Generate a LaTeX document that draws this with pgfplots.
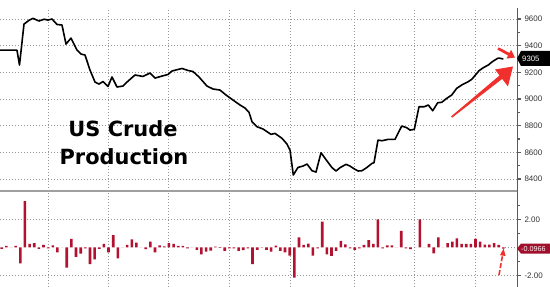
\documentclass[border=0pt]{standalone}
\usepackage{fontspec}
\setmainfont{Liberation Sans}
\newfontfamily\titlefont{DejaVu Sans}
\usepackage{pgfplots}
\pgfplotsset{compat=1.18}
\definecolor{barred}{RGB}{178,18,48}
\definecolor{arrowred}{RGB}{240,48,45}
\definecolor{gridgray}{RGB}{150,150,150}
\definecolor{axisgray}{RGB}{90,90,90}
\definecolor{boxred}{RGB}{160,16,45}
\pgfplotsset{
  panel/.style={
    scale only axis, width=517bp, xmin=0, xmax=517,
    axis line style={draw=none},
    xtick={48,108,168,229,290,354,414,475}, xticklabels={},
    xtick style={draw=none},
    xmajorgrids, ymajorgrids,
    major grid style={gridgray, line width=0.7bp, dash pattern=on 1bp off 2bp},
    ytick pos=right, yticklabel pos=right, tick align=outside,
    major tick length=4bp, minor tick length=3bp,
    ytick style={axisgray, line width=1.1bp},
    minor tick style={axisgray, line width=0.6bp},
    tick label style={font=\fontsize{8}{9}\selectfont, text=black!80},
    clip=false,
    /pgf/number format/assume math mode=true,
  }
}
\begin{document}
\begin{tikzpicture}
\useasboundingbox (0,0) rectangle (550bp,287bp);
\begin{axis}[panel, at={(0,96bp)}, anchor=south west, height=183bp,
  ymin=8310, ymax=9682.5,
  ytick={8400,8600,8800,9000,9200,9400,9600},
  yticklabels={8400,8600,8800,9000,9200,9400,9600},
  minor ytick={8500,8700,8900,9100,9300,9500}]
\addplot[black, line width=1.6bp, line join=round] coordinates {
(0,9367) (15,9367) (17,9365) (19.5,9255) (24,9562) (29,9590) (33,9605) (39,9585)
(44,9598) (48,9592) (52,9600) (57,9559) (62,9555) (66,9412) (71,9457) (77,9367)
(81,9337) (85,9330) (90,9217) (95,9127) (99,9112) (103,9131) (108,9094) (112,9165)
(117,9090) (123,9097) (127,9127) (135,9180) (143,9169) (150,9195) (155,9157) (162,9172)
(168,9184) (172,9210) (182,9229) (188,9214) (193,9206) (199,9165) (207,9097) (213,9075)
(220,9067) (226,9030) (233,8992) (240,8955) (245,8932) (249,8900) (252,8830) (257,8792)
(263,8775) (267,8755) (271,8735) (275,8742) (282,8705) (287,8662) (290,8617) (293.3,8430)
(298,8487) (303,8497) (307,8512) (312,8462) (316,8452) (321,8597) (327,8535) (332,8485)
(336,8460) (340,8485) (346,8510) (350,8497) (354,8477) (358,8460) (362,8462) (367,8487)
(372,8517) (374,8522) (378,8692) (382,8687) (388,8697) (395,8697) (401.7,8797) (406.7,8785)
(410,8767) (414.3,8772) (419,8942) (424.3,8942) (428.3,8955) (432.7,8912) (437.7,8972) (441.7,8975)
(446.7,9005) (451.7,9030) (456.7,9080) (461.7,9105) (468.3,9130) (471.7,9147) (479,9212) (483.3,9235)
(488.3,9255) (492.3,9280) (497.7,9305) (499,9307) (503.3,9300)
};
\draw[axisgray, line width=0.8bp] (rel axis cs:1,0) -- (rel axis cs:1,1);
\end{axis}
\begin{axis}[panel, at={(0,0)}, anchor=south west, height=96bp,
  ymin=-2.836, ymax=4.02,
  ytick={-2,2}, yticklabels={-2.00,2.00}, minor ytick={-1,0,1,3}]
\addplot[ybar, bar width=2.6bp, fill=barred, draw=none] coordinates {
(1.7,-0.12) (6.3,0.1) (11.0,0.0) (15.6,0.1) (20.3,-1.14) (24.9,3.3) (29.6,0.24) (34.2,0.29)
(38.9,-0.12) (43.5,0.17) (48.2,-0.07) (52.8,0.14) (57.4,-0.36) (62.1,0.0) (66.7,-1.45) (71.4,0.6)
(76.0,-0.69) (80.7,-0.45) (85.3,-0.07) (90.0,-1.21) (94.6,-0.86) (99.2,-0.12) (103.9,0.24) (108.5,-0.36)
(113.2,0.86) (117.8,-0.79) (122.5,0.0) (127.1,0.17) (131.8,0.57) (136.4,0.33) (141.0,0.0) (145.7,-0.14)
(150.3,0.4) (155.0,-0.36) (159.6,0.14) (164.3,0.07) (168.9,0.29) (173.6,0.24) (178.2,0.1) (182.9,0.1)
(187.5,-0.07) (192.1,0.0) (196.8,-0.19) (201.4,-0.5) (206.1,-0.31) (210.7,-0.24) (215.4,0.05) (220.0,-0.05)
(224.7,-0.26) (229.3,-0.07) (233.9,-0.07) (238.6,-0.26) (243.2,-0.21) (247.9,-0.07) (252.5,-1.21) (257.2,-0.19)
(261.8,-0.02) (266.5,-0.19) (271.1,-0.31) (275.8,0.12) (280.4,-0.26) (285.0,-0.36) (289.7,-0.6) (294.3,-2.17)
(299.0,0.71) (303.6,0.17) (308.3,0.26) (312.9,-0.6) (317.6,-0.07) (322.2,1.83) (326.9,-0.5) (331.5,-0.62)
(336.1,-0.26) (340.8,0.45) (345.4,0.21) (350.1,-0.07) (354.7,-0.19) (359.4,-0.07) (364.0,0.17) (368.7,0.52)
(373.3,0.24) (377.9,2.0) (382.6,-0.07) (387.2,0.14) (391.9,0.14) (396.5,0.0) (401.2,1.17) (405.8,-0.07)
(410.5,-0.14) (415.1,0.0) (419.8,2.0) (424.4,0.0) (429.0,0.24) (433.7,-0.43) (438.3,0.71) (443.0,0.0)
(447.6,0.29) (452.3,0.4) (456.9,0.64) (461.6,0.24) (466.2,0.24) (470.8,0.24) (475.5,0.6) (480.1,0.4)
(484.8,0.19) (489.4,0.19) (494.1,0.29) (498.7,0.17) (503.4,-0.0966)
};
\draw[gridgray, line width=0.7bp, dash pattern=on 1bp off 2bp] (axis cs:505,0) -- (axis cs:517,0);
\draw[gray!75, line width=1.8bp] (rel axis cs:0,1) -- (rel axis cs:1,1);
\draw[axisgray, line width=0.8bp] (rel axis cs:1,0) -- (rel axis cs:1,1);
\end{axis}
\begin{scope}[x=1bp, y=-1bp, shift={(0,287bp)}]
\node[anchor=base, font=\titlefont\bfseries\fontsize{21}{25}\selectfont] at (123,137) {US Crude};
\node[anchor=base, font=\titlefont\bfseries\fontsize{21}{25}\selectfont] at (124,165) {Production};
\fill[black] (517,58.5) -- (521,51) -- (550,51) -- (550,66) -- (521,66) -- cycle;
\node[anchor=west, text=white, font=\fontsize{7.8}{9}\selectfont, inner sep=0] at (522,58.5) {9305};
\fill[boxred] (517,248.6) -- (521,243.6) -- (550,243.6) -- (550,253.6) -- (521,253.6) -- cycle;
\node[anchor=west, text=white, font=\fontsize{7.2}{8}\selectfont, inner sep=0] at (521,248.6) {-0.0966};
\fill[arrowred] (451,116.5) -- (499.5,75.5) -- (495,69.5) -- (513,66.5) -- (508,86.5) -- (502.2,78.9) -- (452.2,117.6) -- cycle;
\fill[arrowred] (498.6,47.4) -- (509.5,52.9) -- (511.1,49.8) -- (515,57.5) -- (506.5,58.6) -- (508.1,55.5) -- (497.4,49.6) -- cycle;
\draw[arrowred, line width=1.6bp, dash pattern=on 5bp off 2bp] (499,275) -- (502.6,255);
\fill[arrowred] (503.6,248.5) -- (505.6,256) -- (500,255.2) -- cycle;
\end{scope}
\end{tikzpicture}
\end{document}
